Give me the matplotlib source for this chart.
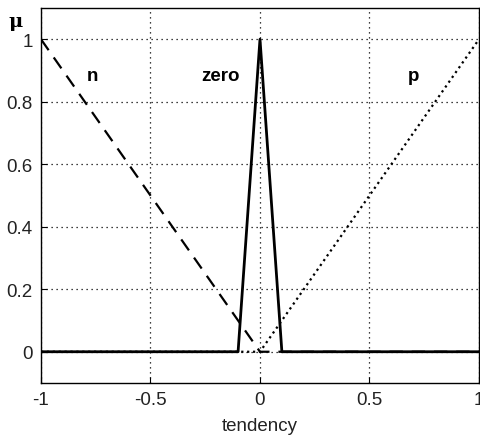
import numpy as np
import matplotlib.pyplot as plt

plt.rcParams['font.family'] = ['Liberation Sans', 'DejaVu Sans']

# funções de pertinência (pontos de quebra)
x_n = [-1, 0, 1]
mu_n = [1, 0, 0]
x_zero = [-1, -0.1, 0, 0.1, 1]
mu_zero = [0, 0, 1, 0, 0]
x_p = [-1, 0, 1]
mu_p = [0, 0, 1]

fig = plt.figure(figsize=(4.81, 4.39), dpi=100)
ax = fig.add_axes([0.0852, 0.1253, 0.9106, 0.8542])

ax.plot(x_n, mu_n, 'k--', lw=1.6, dashes=(6, 4))
ax.plot(x_p, mu_p, 'k:', lw=1.6)
ax.plot(x_zero, mu_zero, 'k-', lw=2)

ax.text(-0.767, 0.868, 'n', fontsize=13.5, fontweight='bold', ha='center', va='baseline')
ax.text(-0.18, 0.868, 'zero', fontsize=13.5, fontweight='bold', ha='center', va='baseline')
ax.text(0.70, 0.868, 'p', fontsize=13.5, fontweight='bold', ha='center', va='baseline')

ax.set_xlim(-1, 1)
ax.set_ylim(-0.1, 1.1)
ax.set_xticks([-1, -0.5, 0, 0.5, 1])
ax.set_xticklabels(['-1', '-0.5', '0', '0.5', '1'])
ax.set_yticks([0, 0.2, 0.4, 0.6, 0.8, 1])
ax.set_yticklabels(['0', '0.2', '0.4', '0.6', '0.8', '1'])
ax.tick_params(direction='in', labelsize=13.5, length=4, color='k', pad=6)
for lb in ax.get_xticklabels() + ax.get_yticklabels():
    lb.set_color('#222222')
ax.grid(True, color='k', linestyle=(0, (1, 3)), linewidth=0.9)
for s in ax.spines.values():
    s.set_linewidth(1)
ax.set_xlabel('tendency', fontsize=13.5, labelpad=6, color='#222222')
fig.text(0.032, 0.951, 'μ', fontsize=14, fontweight='bold', family='DejaVu Serif',
         ha='center', va='center')

fig.savefig('out.png', dpi=100)
